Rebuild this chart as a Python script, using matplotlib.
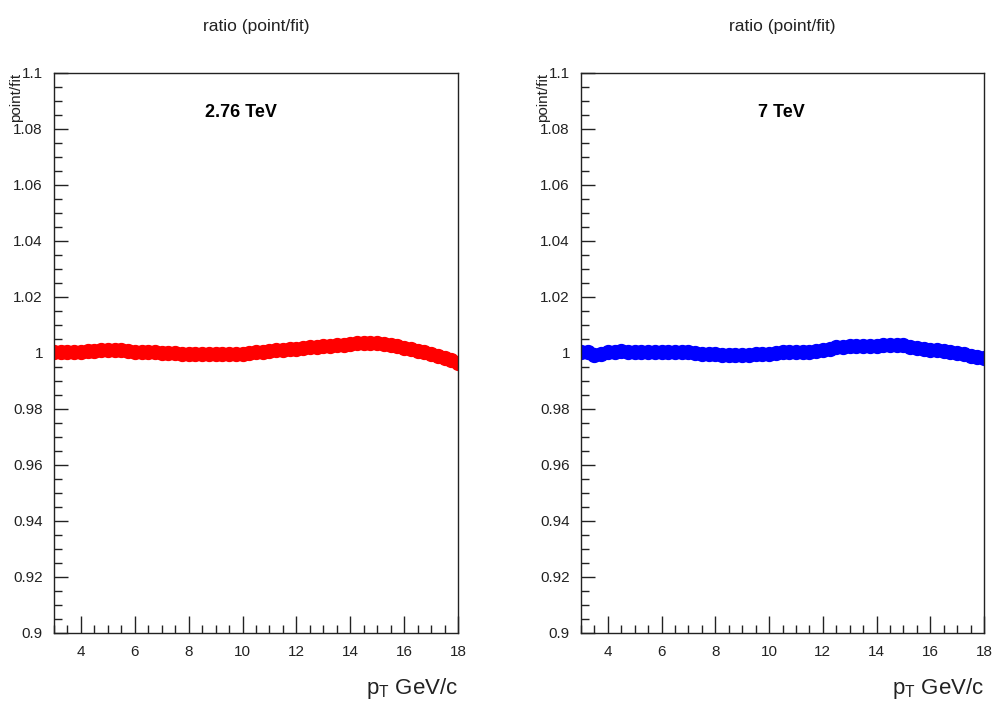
import matplotlib
matplotlib.use('Agg')
import matplotlib.pyplot as plt
from matplotlib.ticker import MultipleLocator, FuncFormatter

plt.rcParams['font.family'] = ['Liberation Sans', 'DejaVu Sans']
plt.rcParams['mathtext.fontset'] = 'custom'
plt.rcParams['mathtext.rm'] = 'Liberation Sans'

# pT bin centres (GeV/c)
pt = [3.00, 3.25, 3.50, 3.75, 4.00, 4.25, 4.50, 4.75, 5.00, 5.25,
      5.50, 5.75, 6.00, 6.25, 6.50, 6.75, 7.00, 7.25, 7.50, 7.75,
      8.00, 8.25, 8.50, 8.75, 9.00, 9.25, 9.50, 9.75, 10.00, 10.25,
      10.50, 10.75, 11.00, 11.25, 11.50, 11.75, 12.00, 12.25, 12.50, 12.75,
      13.00, 13.25, 13.50, 13.75, 14.00, 14.25, 14.50, 14.75, 15.00, 15.25,
      15.50, 15.75, 16.00, 16.25, 16.50, 16.75, 17.00, 17.25, 17.50, 17.75,
      18.00]

# ratio point/fit, 2.76 TeV
ratio_276 = [1.0004, 1.0003, 1.0004, 1.0004, 1.0005, 1.0006, 1.0008, 1.0010, 1.0011, 1.0010,
             1.0009, 1.0007, 1.0005, 1.0004, 1.0003, 1.0002, 1.0001, 1.0000, 0.9999, 0.9998,
             0.9997, 0.9996, 0.9996, 0.9996, 0.9996, 0.9997, 0.9997, 0.9997, 0.9998, 1.0000,
             1.0003, 1.0005, 1.0008, 1.0010, 1.0012, 1.0014, 1.0016, 1.0018, 1.0020, 1.0022,
             1.0024, 1.0026, 1.0028, 1.0030, 1.0032, 1.0034, 1.0036, 1.0036, 1.0034, 1.0032,
             1.0029, 1.0024, 1.0018, 1.0013, 1.0008, 1.0003, 0.9997, 0.9990, 0.9983, 0.9975,
             0.9966]

# ratio point/fit, 7 TeV
ratio_7 = [1.0005, 1.0002, 0.9993, 0.9996, 1.0002, 1.0005, 1.0007, 1.0005, 1.0003, 1.0002,
           1.0002, 1.0002, 1.0002, 1.0003, 1.0003, 1.0003, 1.0002, 1.0000, 0.9997, 0.9995,
           0.9995, 0.9994, 0.9993, 0.9993, 0.9992, 0.9993, 0.9995, 0.9997, 0.9998, 1.0000,
           1.0002, 1.0003, 1.0004, 1.0004, 1.0005, 1.0008, 1.0012, 1.0016, 1.0020, 1.0023,
           1.0024, 1.0024, 1.0024, 1.0024, 1.0025, 1.0027, 1.0029, 1.0030, 1.0027, 1.0023,
           1.0019, 1.0015, 1.0012, 1.0009, 1.0006, 1.0003, 0.9999, 0.9995, 0.9991, 0.9987,
           0.9983]

panels = [('2.76 TeV', ratio_276, '#ff0000', 0.463),
          ('7 TeV', ratio_7, '#0000ff', 0.496)]

fig = plt.figure(figsize=(9.94, 7.01), dpi=100)
lefts = [54 / 994, 581 / 994]
widths = [404 / 994, 403 / 994]

for (label, vals, col, tx), left, w in zip(panels, lefts, widths):
    ax = fig.add_axes([left, 68 / 701, w, 560 / 701])
    ax.plot(pt, vals, 'o', color=col, markersize=11, markeredgewidth=0)
    ax.set_xlim(3, 18)
    ax.set_ylim(0.9, 1.1)

    ax.xaxis.set_major_locator(MultipleLocator(2))
    ax.xaxis.set_minor_locator(MultipleLocator(0.5))
    ax.yaxis.set_major_locator(MultipleLocator(0.02))
    ax.yaxis.set_minor_locator(MultipleLocator(0.005))
    ax.yaxis.set_major_formatter(FuncFormatter(lambda v, p: '%g' % round(v, 3)))
    ax.xaxis.set_major_formatter(FuncFormatter(lambda v, p: '%g' % v))

    ax.tick_params(axis='both', which='both', direction='in', top=False, right=False,
                   labelsize=11, width=1, colors='#222222')
    ax.tick_params(axis='x', which='major', length=12, pad=9)
    ax.tick_params(axis='x', which='minor', length=6)
    ax.tick_params(axis='y', which='major', length=10, pad=8)
    ax.tick_params(axis='y', which='minor', length=6)
    for s in ax.spines.values():
        s.set_linewidth(1.0)
        s.set_color('#222222')

    ax.set_title('ratio (point/fit)', fontsize=12.5, pad=30, color='#222222')
    ax.text(tx, 0.93, label, transform=ax.transAxes, ha='center', va='center',
            fontsize=13, fontweight='bold')
    ax.set_xlabel(r'p$_\mathregular{T}$ GeV/c', fontsize=16, loc='right', labelpad=12,
                  color='#222222')
    ax.set_ylabel('point/fit', fontsize=11, loc='top', labelpad=-7, color='#222222')

fig.savefig('out.png', dpi=100)
